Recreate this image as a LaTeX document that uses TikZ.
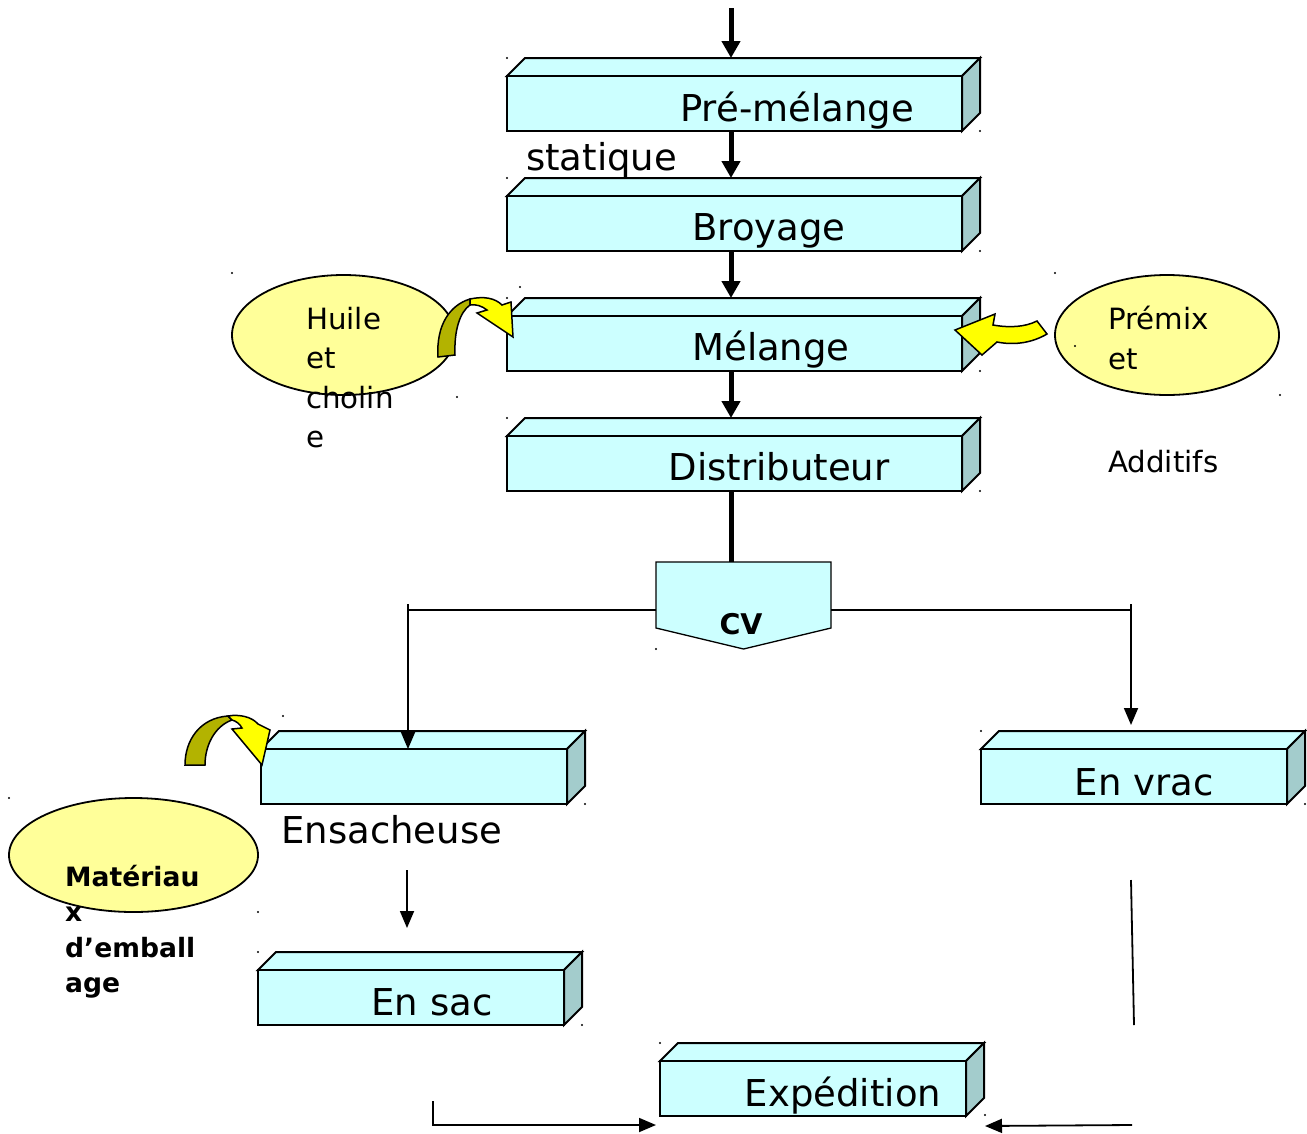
\documentclass[tikz,border=0pt]{standalone}
\usepackage{fontspec}
\setmainfont{DejaVu Sans}
\usetikzlibrary{arrows.meta,calc,shapes.geometric}

\definecolor{boxfront}{HTML}{CCFFFF}
\definecolor{boxside}{HTML}{A3CCCC}
\definecolor{ovalfill}{HTML}{FFFF99}
\definecolor{arrowyellow}{HTML}{FFFF00}
\definecolor{arrowolive}{HTML}{B3B300}

\newcommand\bigtxt{\fontsize{37}{44}\selectfont}
\newcommand\midtxt{\fontsize{29.3}{39.5}\selectfont}

% 3-D block: #1 name, #2 left, #3 top, #4 right, #5 bottom of the front face
\newcommand\cuboid[5]{%
  \pgfmathsetmacro\cbw{#4-#2}%
  \pgfmathsetmacro\cbh{#5-#3}%
  \filldraw[boxline, fill=boxfront] (#2,#3) -- (#2+18,#3-18) -- (#4+18,#3-18) -- (#4,#3) -- cycle;
  \filldraw[boxline, fill=boxside] (#4,#3) -- (#4+18,#3-18) -- (#4+18,#5-18) -- (#4,#5) -- cycle;
  \node[boxline, fill=boxfront, inner sep=0pt, outer sep=0pt, minimum width=\cbw pt,
        minimum height=\cbh pt, anchor=north west] (#1) at (#2,#3) {};
}

\begin{document}
\begin{tikzpicture}[x=1pt, y=-1pt,
  boxline/.style={draw=black, line width=2pt, line join=miter},
  oval/.style={ellipse, draw=black, line width=1.8pt, fill=ovalfill, inner sep=0pt},
  boxtext/.style={font=\bigtxt, inner sep=0pt, anchor=base},
  bigarrow/.style={line width=5pt, -{Triangle[width=18pt,length=17pt]}},
  bigline/.style={line width=5pt},
  link/.style={line width=1.8pt},
  linkarrow/.style={line width=1.8pt, -{Triangle[width=14pt,length=17pt]}},
  curl/.style={draw=black, line width=1.5pt, line join=miter},
  speck/.style={fill=black}]

\useasboundingbox (0,0) rectangle (1307,1133);

% blocks of the process line
\cuboid{pre}{507}{76}{962}{131}
\cuboid{broy}{507}{196}{962}{251}
\cuboid{mel}{507}{316}{962}{371}
\cuboid{dist}{507}{436}{962}{491}
\cuboid{ens}{261}{749}{567}{804}
\cuboid{vrac}{981}{749}{1287}{804}
\cuboid{sac}{258}{970}{564}{1025}
\cuboid{exp}{660}{1061}{966}{1116}

\node[boxtext] (tpre)  at (797,121)  {Pré-mélange};
\node[boxtext] (tbroy) at (769,240)  {Broyage};
\node[boxtext] (tmel)  at (771,360)  {Mélange};
\node[boxtext] (tdist) at (779,480)  {Distributeur};
\node[boxtext] (tvrac) at (1144,795) {En vrac};
\node[boxtext] (tsac)  at (432,1015) {En sac};
\node[boxtext] (texp)  at (843,1106) {Expédition};
\node[font=\bigtxt, inner sep=0pt, anchor=base west] (tstat) at (526,170) {statique};
\node[font=\bigtxt, inner sep=0pt, anchor=base west] (tens)  at (281,843) {Ensacheuse};

% control valve
\node[inner sep=0pt, outer sep=0pt, minimum width=175pt, minimum height=66pt,
      anchor=north west] (cv) at (656,562) {};
\filldraw[draw=black, line width=1.3pt, fill=boxfront]
  (cv.north west) -- (cv.north east) -- (cv.south east) -- ($(cv.south)+(0,21)$)
  -- (cv.south west) -- cycle;
\node[font=\fontsize{28.5}{34}\selectfont\bfseries, inner sep=0pt, anchor=base] (tcv) at (741,634) {CV};

% ingredient ovals
\node[oval, minimum width=223pt, minimum height=120pt] (huile) at (343.5,335) {};
\node[oval, minimum width=224pt, minimum height=120pt] (premix) at (1167,335) {};
\node[oval, minimum width=249pt, minimum height=114pt] (emb) at (133.5,855) {};

\node[font=\midtxt, align=left, inner sep=0pt, anchor=north west] (thuile) at (306,307)
  {Huile\\et\\cholin\\e};
\node[font=\midtxt, align=left, inner sep=0pt, anchor=north west] (tpremix) at (1108,306)
  {Prémix\\et};
\node[font=\midtxt, inner sep=0pt, anchor=base west] (tadd) at (1108,472) {Additifs};
\node[font=\fontsize{26.6}{35.5}\selectfont\bfseries, align=left, inner sep=0pt,
      anchor=north west] (temb) at (65,865) {Matériau\\x\\d’emball\\age};

% main flow
\coordinate (axis) at (731,0);
\coordinate (feed) at (731,8);
\draw[bigarrow] (feed) -- ($(pre.north -| axis)+(0,-18)$);
\draw[bigarrow] (pre.south -| axis) -- ($(broy.north -| axis)+(0,-18)$);
\draw[bigarrow] (broy.south -| axis) -- ($(mel.north -| axis)+(0,-18)$);
\draw[bigarrow] (mel.south -| axis) -- ($(dist.north -| axis)+(0,-18)$);
\draw[bigline] (dist.south -| axis) -- (cv.north -| axis);

% split after the valve
\coordinate (split) at (0,610);
\coordinate (lturn) at (408,610);
\coordinate (ltop) at (408,604);
\coordinate (rturn) at (1131,610);
\coordinate (rtop) at (1131,604);
\draw[link] (cv.west |- split) -- (lturn);
\draw[linkarrow] (ltop) -- (ens.north -| ltop);
\draw[link] (cv.east |- split) -- (rturn);
\draw[linkarrow] (rtop) -- ($(vrac.north -| rtop)+(0,-24)$);

\coordinate (e1) at (407,870);
\draw[linkarrow] (e1) -- ($(sac.north -| e1)+(0,-42)$);
\coordinate (v1) at (1131,880);
\coordinate (v2) at (1134,1025);
\draw[link] (v1) -- (v2);

\coordinate (b1) at (433,1101);
\draw[linkarrow] (b1) |- ($(exp.south west)+(-4,9)$);
\coordinate (b2) at (1132,1125);
\draw[linkarrow] (b2) -- ($(exp.south east)+(19,10)$);

% curled feed arrows
\filldraw[curl, fill=arrowolive] (438,357) .. controls (436,325) and (450,305) .. (470,299)
  -- (470,305) .. controls (460,312) and (454,330) .. (455,355) -- cycle;
\filldraw[curl, fill=arrowyellow] (470,299) .. controls (484,296) and (495,298) .. (502,305)
  -- (511,302) -- (513,337) -- (477,313) -- (487,310)
  .. controls (482,306) and (476,304) .. (470,305) -- cycle;

\filldraw[curl, fill=arrowolive] (185,765) .. controls (185,740) and (200,718) .. (228,716)
  -- (232,720) .. controls (215,726) and (205,745) .. (205,765) -- cycle;
\filldraw[curl, fill=arrowyellow] (228,716) .. controls (240,714) and (252,717) .. (258,724)
  -- (270,730) -- (262,765) -- (232,729) -- (242,728)
  .. controls (240,724) and (236,721) .. (232,720) -- cycle;

\filldraw[curl, fill=arrowyellow] (955,330) -- (995,314) -- (993,325)
  .. controls (1010,328) and (1025,327) .. (1037,321) -- (1047,334)
  .. controls (1030,344) and (1012,345) .. (997,342) -- (982,355) -- cycle;

% small frame specks
\foreach \p in {(507,58),(980,131),(507,178),(980,251),(232,273),(520,287),(507,298),
  (1055,273),(1075,346),(980,371),(457,397),(1280,395),(507,418),(980,491),(656,649),
  (283,716),(981,731),(585,804),(1305,804),(9,798),(258,912),(258,952),(582,1025),
  (660,1043),(985,1115)}
  \fill[speck] \p circle (1.2);

\end{tikzpicture}
\end{document}
